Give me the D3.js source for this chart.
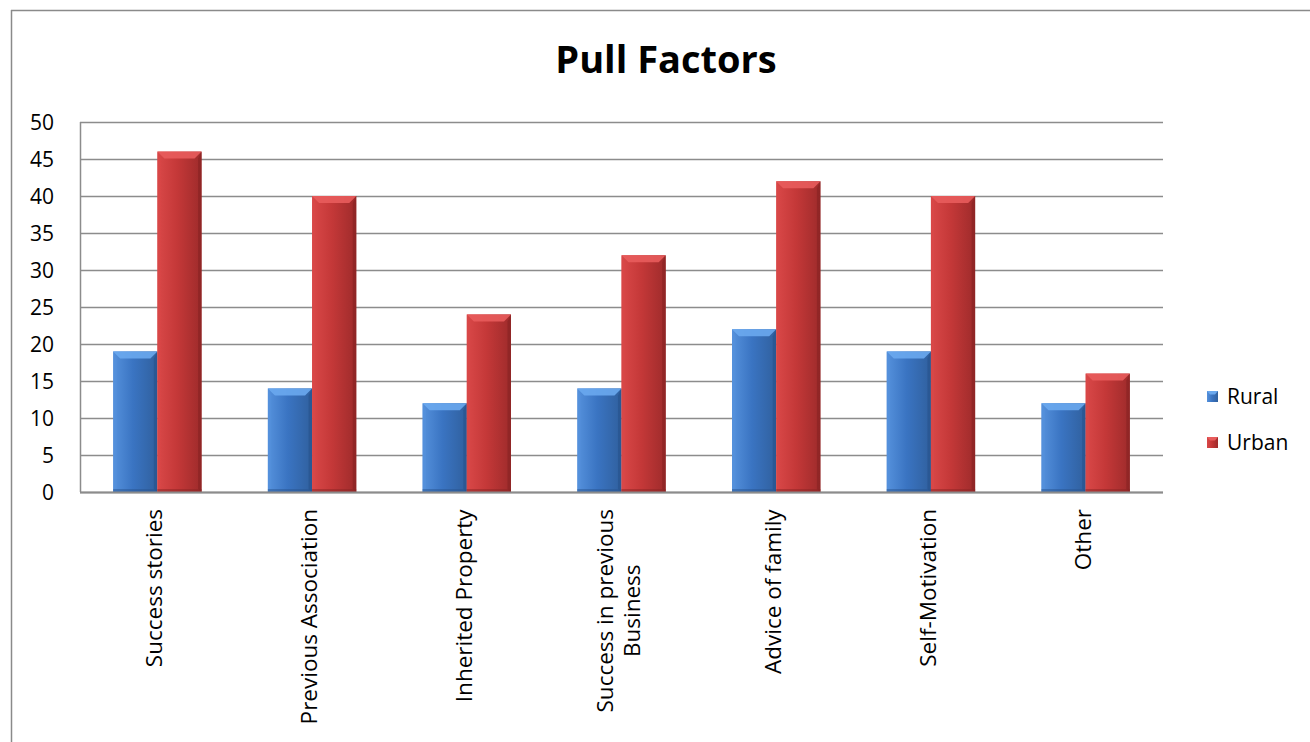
<!DOCTYPE html>
<html>
<head>
<meta charset="utf-8">
<script src="https://cdn.jsdelivr.net/npm/d3@7"></script>
<style>
  html, body { margin: 0; padding: 0; background: #ffffff; }
  svg { display: block; }
  text { font-family: "Open Sans", "Liberation Sans", sans-serif; fill: #000; }
</style>
</head>
<body>
<script>
const categories = ["Success stories", "Previous Association", "Inherited Property",
  "Success in previous Business", "Advice of family", "Self-Motivation", "Other"];
const categoryLines = [["Success stories"], ["Previous Association"], ["Inherited Property"],
  ["Success in previous", "Business"], ["Advice of family"], ["Self-Motivation"], ["Other"]];
const seriesNames = ["Rural", "Urban"];
const ruralValues = [19, 14, 12, 14, 22, 19, 12];
const urbanValues = [46, 40, 24, 32, 42, 40, 16];
const yTicks = [0, 5, 10, 15, 20, 25, 30, 35, 40, 45, 50];
const chartTitle = "Pull Factors";

const W = 1310, H = 742;
const plot = { left: 80, right: 1163, top: 122, bottom: 492 };

const svg = d3.select("body").append("svg").attr("width", W).attr("height", H);

const colors = {
  Rural: { main: "#3a74c2", light: "#5591dc", top: "#6aa8ee", dark: "#28548f", edge: "#30609e" },
  Urban: { main: "#c43838", light: "#d94848", top: "#e85c5c", dark: "#8a2424", edge: "#9e2b2b" }
};

const defs = svg.append("defs");
seriesNames.forEach(s => {
  const g = defs.append("linearGradient").attr("id", "grad-" + s)
    .attr("x1", "0").attr("x2", "1").attr("y1", "0").attr("y2", "0");
  g.append("stop").attr("offset", "0%").attr("stop-color", colors[s].light);
  g.append("stop").attr("offset", "45%").attr("stop-color", colors[s].main);
  g.append("stop").attr("offset", "100%").attr("stop-color", colors[s].edge);
});

// outer chart border (only top and left visible)
svg.append("line").attr("x1", 11).attr("x2", W).attr("y1", 10.5).attr("y2", 10.5)
  .attr("stroke", "#8a8a8a").attr("stroke-width", 1.5);
svg.append("line").attr("x1", 11.5).attr("x2", 11.5).attr("y1", 10).attr("y2", H)
  .attr("stroke", "#8a8a8a").attr("stroke-width", 1.5);

// title
svg.append("text").attr("x", 666).attr("y", 73).attr("text-anchor", "middle")
  .style("font-size", "38px").style("font-weight", "bold").text(chartTitle);

const x0 = d3.scaleBand().domain(categories).range([plot.left, plot.right]).paddingInner(0).paddingOuter(0);
const y = d3.scaleLinear().domain([0, 50]).range([plot.bottom, plot.top]);
const groupFrac = 2 / 3.5; // gap width 150%
const x1 = d3.scaleBand().domain(seriesNames).range([0, x0.bandwidth() * groupFrac]);

// gridlines
const yAxis = d3.axisLeft(y).tickValues(yTicks).tickSize(-(plot.right - plot.left)).tickFormat("");
const gGrid = svg.append("g").attr("transform", `translate(${plot.left},0)`).call(yAxis);
gGrid.select(".domain").remove();
gGrid.selectAll(".tick line").attr("stroke", "#8c8c8c").attr("stroke-width", 1.5);

// plot left border
svg.append("line").attr("x1", plot.left + 0.5).attr("x2", plot.left + 0.5)
  .attr("y1", plot.top).attr("y2", plot.bottom).attr("stroke", "#8c8c8c").attr("stroke-width", 1.5);

// y tick labels
svg.append("g").selectAll("text").data(yTicks).join("text")
  .attr("x", 54).attr("y", d => y(d)).attr("dy", "0.36em").attr("text-anchor", "end")
  .style("font-size", "21px").text(d => d);

// bars
const data = categories.map((c, i) => ({ cat: c, vals: [
  { s: "Rural", v: ruralValues[i] }, { s: "Urban", v: urbanValues[i] }] }));

const groups = svg.append("g").selectAll("g").data(data).join("g")
  .attr("transform", d => `translate(${x0(d.cat) + x0.bandwidth() * (1 - groupFrac) / 2},0)`);

const bars = groups.selectAll("g.bar").data(d => d.vals).join("g").attr("class", "bar");
const bev = 7;
bars.each(function(d) {
  const g = d3.select(this);
  const bx = x1(d.s), bw = x1.bandwidth(), by = y(d.v), bh = y(0) - y(d.v);
  const c = colors[d.s];
  g.append("rect").attr("x", bx).attr("y", by).attr("width", bw).attr("height", bh)
    .attr("fill", `url(#grad-${d.s})`);
  // top bevel
  g.append("polygon").attr("points",
    [[bx, by], [bx + bw, by], [bx + bw - bev, by + bev], [bx + bev, by + bev]].map(p => p.join(",")).join(" "))
    .attr("fill", c.top).attr("opacity", 0.9);
  // left bevel
  g.append("polygon").attr("points",
    [[bx, by], [bx + bev * 0.5, by + bev], [bx + bev * 0.5, by + bh - 3], [bx, by + bh]].map(p => p.join(",")).join(" "))
    .attr("fill", c.light).attr("opacity", 0.6);
  // right bevel
  g.append("polygon").attr("points",
    [[bx + bw, by], [bx + bw - bev * 0.5, by + bev], [bx + bw - bev * 0.5, by + bh - 3], [bx + bw, by + bh]].map(p => p.join(",")).join(" "))
    .attr("fill", c.dark).attr("opacity", 0.7);
  // bottom shade
  g.append("rect").attr("x", bx).attr("y", by + bh - 3).attr("width", bw).attr("height", 3)
    .attr("fill", c.dark).attr("opacity", 0.5);
});

// bottom axis line
svg.append("line").attr("x1", plot.left).attr("x2", plot.right)
  .attr("y1", plot.bottom + 0.5).attr("y2", plot.bottom + 0.5)
  .attr("stroke", "#8c8c8c").attr("stroke-width", 2);

// category labels rotated
const lineH = 27;
const labG = svg.append("g").selectAll("g").data(categories).join("g")
  .attr("transform", c => `translate(${x0(c) + x0.bandwidth() / 2 - 3},${plot.bottom + 17}) rotate(-90)`);
labG.each(function(c, i) {
  const lines = categoryLines[i];
  const t = d3.select(this).append("text").attr("text-anchor", "middle").style("font-size", "22.5px");
  const n = lines.length;
  lines.forEach((ln, k) => {
    t.append("tspan").attr("x", 0).attr("y", (k - (n - 1) / 2) * lineH).attr("dy", "0.36em").text(ln);
  });
  const bb = t.node().getBBox();
  t.attr("transform", `translate(${-bb.width / 2},0)`);
});

// legend
const leg = svg.append("g").selectAll("g").data(seriesNames).join("g")
  .attr("transform", (s, i) => `translate(1207,${391 + i * 46})`);
leg.append("rect").attr("width", 11).attr("height", 11).attr("fill", s => `url(#grad-${s})`);
leg.append("polygon").attr("points", "0,0 11,0 8,3.5 3,3.5").attr("fill", s => colors[s].top);
leg.append("text").attr("x", 20).attr("y", 5.5).attr("dy", "0.36em").style("font-size", "21px").text(s => s);
</script>
</body>
</html>
